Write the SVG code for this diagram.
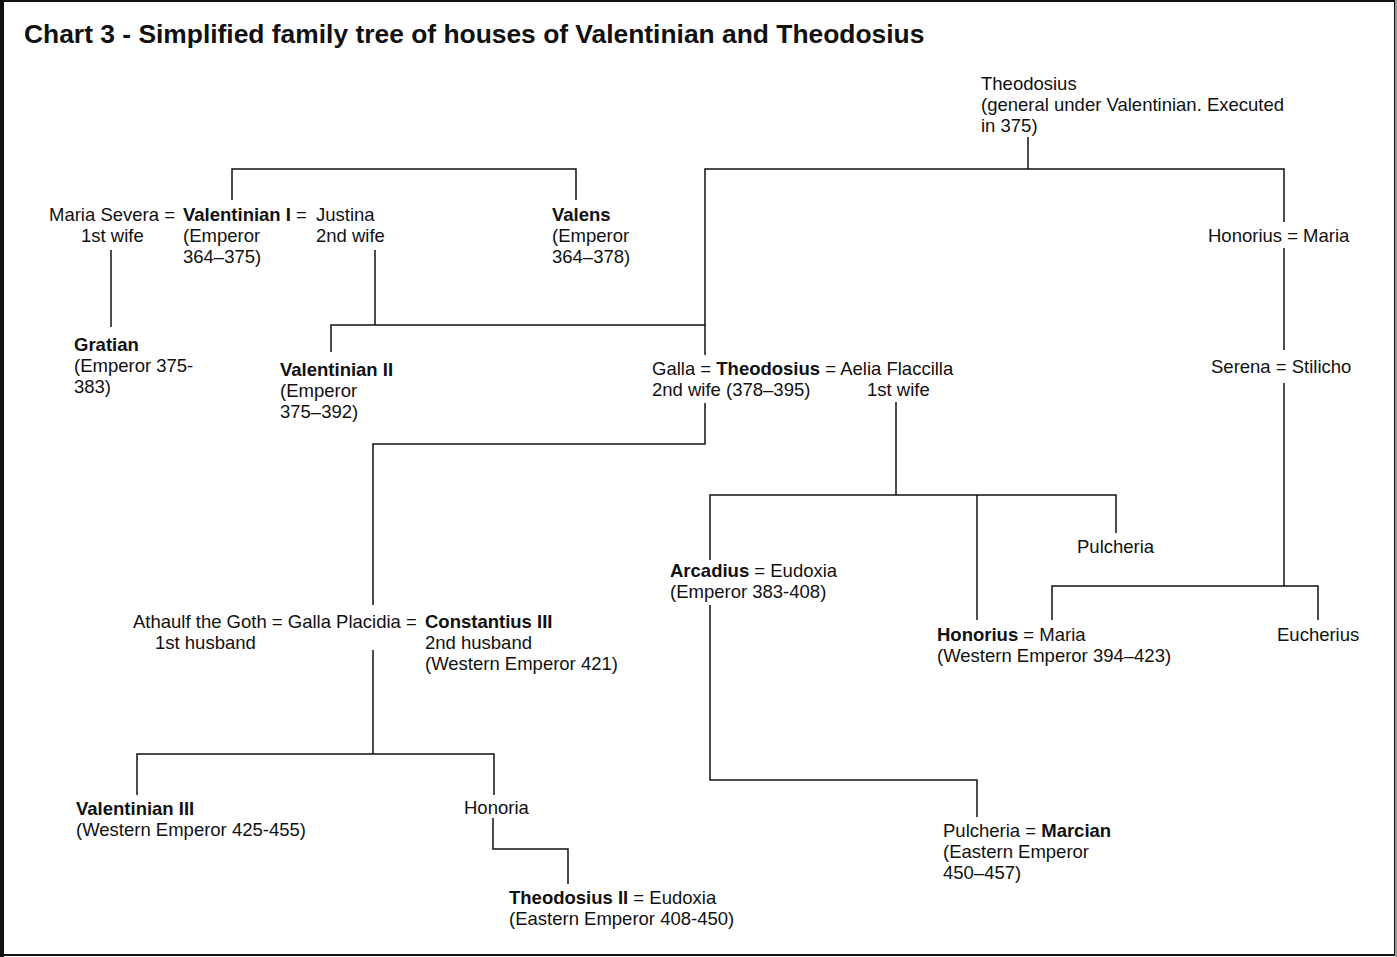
<svg xmlns="http://www.w3.org/2000/svg" width="1397" height="957" viewBox="0 0 1397 957">
  <style>
    text { font-family: "Liberation Sans", Arial, Helvetica, sans-serif; font-size: 18.5px; fill: #111; }
    .b { font-weight: bold; }
    .title { font-size: 26.4px; font-weight: bold; }
    .ln { fill: none; stroke: #111; stroke-width: 1.5; }
  </style>

  <!-- frame -->
  <rect x="0" y="0" width="1397" height="957" fill="#fff"/>
  <rect x="2" y="1" width="1393" height="954" fill="none" stroke="#111" stroke-width="2"/>
  <line x1="1396" y1="0" x2="1396" y2="957" stroke="#999" stroke-width="2"/>
  <line x1="2" y1="0" x2="2" y2="957" stroke="#111" stroke-width="4"/>

  <text id="title" class="title" x="24" y="43">Chart 3 - Simplified family tree of houses of Valentinian and Theodosius</text>

  <!-- connectors -->
  <g id="connectors" class="ln">
    <!-- Valentinian I and Valens -->
    <path d="M232 200 V169 H576 V200"/>
    <!-- Theodosius the elder to his sons -->
    <path d="M1028 137 V169"/>
    <path d="M705 355 V169 H1284 V222"/>
    <!-- Maria Severa to Gratian -->
    <path d="M111 250 V327"/>
    <!-- Justina to Valentinian II and Galla -->
    <path d="M375 250 V325"/>
    <path d="M331 352 V325 H705"/>
    <!-- Honorius = Maria to Serena -->
    <path d="M1284 248 V350"/>
    <!-- Serena = Stilicho to Maria and Eucherius -->
    <path d="M1284 383 V586"/>
    <path d="M1052 620 V586 H1318 V620"/>
    <!-- Galla to Galla Placidia -->
    <path d="M705 403 V444 H373 V605"/>
    <!-- Galla Placidia to children -->
    <path d="M373 650 V754"/>
    <path d="M137 795 V754 H494 V795"/>
    <!-- Honoria to Theodosius II -->
    <path d="M493 818 V849 H568 V884"/>
    <!-- Aelia Flaccilla to children -->
    <path d="M896 402 V495"/>
    <path d="M710 560 V495 H1116 V533"/>
    <path d="M977 495 V620"/>
    <!-- Arcadius to Pulcheria -->
    <path d="M710 605 V780 H977 V817"/>
  </g>

  <g id="theodosius-elder">
    <text x="981" y="90">Theodosius</text>
    <text x="981" y="111">(general under Valentinian. Executed</text>
    <text x="981" y="132">in 375)</text>
  </g>

  <g id="maria-severa">
    <text x="49" y="221">Maria Severa =</text>
    <text x="81" y="242">1st wife</text>
  </g>

  <g id="valentinian-i">
    <text x="183" y="221"><tspan class="b">Valentinian I</tspan> =</text>
    <text x="183" y="242">(Emperor</text>
    <text x="183" y="263">364–375)</text>
  </g>

  <g id="justina">
    <text x="316" y="221">Justina</text>
    <text x="316" y="242">2nd wife</text>
  </g>

  <g id="valens">
    <text x="552" y="221" class="b">Valens</text>
    <text x="552" y="242">(Emperor</text>
    <text x="552" y="263">364–378)</text>
  </g>

  <g id="honorius-maria">
    <text x="1208" y="242">Honorius = Maria</text>
  </g>

  <g id="gratian">
    <text x="74" y="351" class="b">Gratian</text>
    <text x="74" y="372">(Emperor 375-</text>
    <text x="74" y="393">383)</text>
  </g>

  <g id="valentinian-ii">
    <text x="280" y="376" class="b">Valentinian II</text>
    <text x="280" y="397">(Emperor</text>
    <text x="280" y="418">375–392)</text>
  </g>

  <g id="theodosius-i">
    <text x="652" y="375">Galla = <tspan class="b">Theodosius</tspan> = Aelia Flaccilla</text>
    <text x="652" y="396">2nd wife (378–395)</text>
    <text x="867" y="396">1st wife</text>
  </g>

  <g id="serena-stilicho">
    <text x="1211" y="373">Serena = Stilicho</text>
  </g>

  <g id="pulcheria">
    <text x="1077" y="553">Pulcheria</text>
  </g>

  <g id="arcadius">
    <text x="670" y="577"><tspan class="b">Arcadius</tspan> = Eudoxia</text>
    <text x="670" y="598">(Emperor 383-408)</text>
  </g>

  <g id="galla-placidia">
    <text x="133" y="628">Athaulf the Goth = Galla Placidia =</text>
    <text x="425" y="628" class="b">Constantius III</text>
    <text x="155" y="649">1st husband</text>
    <text x="425" y="649">2nd husband</text>
    <text x="425" y="670">(Western Emperor 421)</text>
  </g>

  <g id="honorius">
    <text x="937" y="641"><tspan class="b">Honorius</tspan> = Maria</text>
    <text x="937" y="662">(Western Emperor 394–423)</text>
  </g>

  <g id="eucherius">
    <text x="1277" y="641">Eucherius</text>
  </g>

  <g id="valentinian-iii">
    <text x="76" y="815" class="b">Valentinian III</text>
    <text x="76" y="836">(Western Emperor 425-455)</text>
  </g>

  <g id="honoria">
    <text x="464" y="814">Honoria</text>
  </g>

  <g id="theodosius-ii">
    <text x="509" y="904"><tspan class="b">Theodosius II</tspan> = Eudoxia</text>
    <text x="509" y="925">(Eastern Emperor 408-450)</text>
  </g>

  <g id="marcian">
    <text x="943" y="837">Pulcheria = <tspan class="b">Marcian</tspan></text>
    <text x="943" y="858">(Eastern Emperor</text>
    <text x="943" y="879">450–457)</text>
  </g>
</svg>
